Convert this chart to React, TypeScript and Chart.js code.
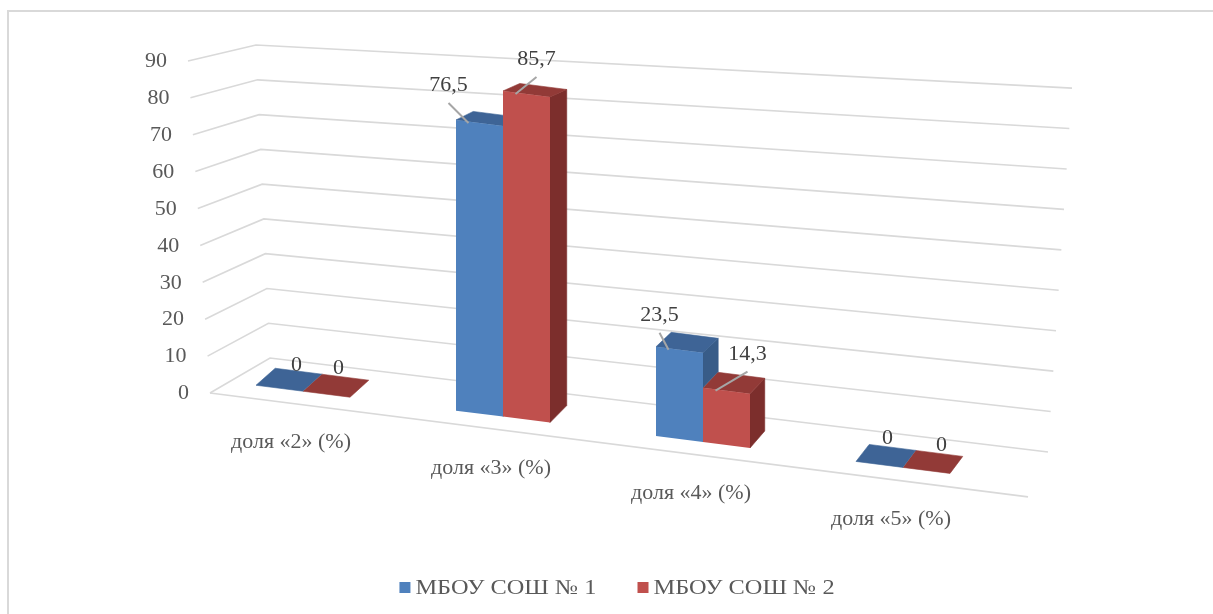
import React, { useEffect, useRef } from "react";
import { Chart, registerables } from "chart.js";

Chart.register(...registerables);

// ---------- data ----------
const CATEGORIES = ["доля «2» (%)", "доля «3» (%)", "доля «4» (%)", "доля «5» (%)"];
const SCHOOL_1 = [0, 76.5, 23.5, 0];
const SCHOOL_2 = [0, 85.7, 14.3, 0];
const SERIES_NAMES = ["МБОУ СОШ № 1", "МБОУ СОШ № 2"];
const Y_TICKS = [0, 10, 20, 30, 40, 50, 60, 70, 80, 90];
const Y_MAX = 90;

// ---------- styles ----------
const FRONT = ["#4F81BD", "#C0504D"];
const TOP = ["#3E6496", "#923A37"];
const SIDE = ["#385C88", "#7C2E2C"];
const GRID = "#D9D9D9";
const AXIS_TEXT = "#595959";
const LABEL_TEXT = "#404040";
const LEADER = "#A6A6A6";
const FONT = '"Liberation Serif", "Times New Roman", serif';
const STRETCH = 1.1;
// label nudges relative to the top-front centre of each bar
const LABEL_NUDGE = [
  [[17, -22], [-31, -37], [-20, -34], [8, -26]],
  [[12, -25], [10, -34], [21, -36], [15, -25]],
];
// oblique view parameters
const K = 0.127; // floor recession (vertical shift per px)
const SHEAR_X0 = 114; // from chartArea.left

const fmt = (v: number) => String(v).replace(".", ",");

function txt(ctx: CanvasRenderingContext2D, s: string, x: number, y: number, size: number, color: string, align: CanvasTextAlign, stretch = STRETCH) {
  ctx.save();
  ctx.font = `${size}px ${FONT}`;
  ctx.fillStyle = color;
  ctx.textBaseline = "middle";
  ctx.textAlign = align;
  ctx.translate(x, y);
  ctx.scale(stretch, 1);
  ctx.fillText(s, 0, 0);
  ctx.restore();
}

function tracePoly(ctx: CanvasRenderingContext2D, pts: number[][]) {
  ctx.moveTo(pts[0][0], pts[0][1]);
  for (let i = 1; i < pts.length; i++) ctx.lineTo(pts[i][0], pts[i][1]);
  ctx.closePath();
}

function poly(ctx: CanvasRenderingContext2D, pts: number[][], color: string) {
  ctx.beginPath();
  tracePoly(ctx, pts);
  ctx.fillStyle = color;
  ctx.strokeStyle = color;
  ctx.lineWidth = 0.6;
  ctx.fill();
  ctx.stroke();
}

// 3D box corner points for a bar element (screen space)
function boxGeom(el: any, v: number, x0: number) {
  const S = (x: number, y: number) => [x, y + K * (x - x0)];
  const xl = el.x - el.width / 2, xr = el.x + el.width / 2;
  const dx = 19 - 0.01 * (el.x - 300);
  const dyTop = -(17 - 10 * v / Y_MAX);
  const ftl = S(xl, el.y), ftr = S(xr, el.y);
  const btl = [ftl[0] + dx, ftl[1] + dyTop], btr = [ftr[0] + dx, ftr[1] + dyTop];
  const fbl = S(xl, el.base), fbr = S(xr, el.base);
  const bbr = [fbr[0] + dx, fbr[1] - 17];
  const top = [ftl, ftr, btr, btl];
  const side = v > 0 ? [ftr, btr, bbr, fbr] : null;
  const hull = v > 0 ? [fbl, ftl, btl, btr, bbr, fbr] : top;
  return { top, side, hull };
}

const pseudo3d = {
  id: "pseudo3d",
  beforeDraw(chart: any) {
    const ctx = chart.ctx;
    ctx.save();
    ctx.fillStyle = "#D9D9D9";
    ctx.fillRect(7, 10, chart.width, 2);
    ctx.fillRect(7, 10, 2, chart.height);
    ctx.restore();
  },
  beforeDatasetsDraw(chart: any) {
    const ctx = chart.ctx;
    const ca = chart.chartArea;
    const ys = chart.scales.y;
    const xs = chart.scales.x;
    const base = ys.getPixelForValue(0);
    const h = base - ca.top;
    const x0 = ca.left + SHEAR_X0;
    ctx.save();
    ctx.strokeStyle = GRID;
    ctx.lineWidth = 1.6;
    Y_TICKS.forEach((v) => {
      const p = ys.getPixelForValue(v);
      const d = p - base;
      const t = (base - p) / h;
      const fx = ca.left + 7 - 22 * t, fy = base + d * 0.971;
      const blx = ca.left + 67 - 14 * t, bly = base - 35 + d * 0.915;
      const brx = ca.left + 845 + 24 * t, bry = base + 59 + d * 1.064;
      ctx.beginPath();
      ctx.moveTo(fx, fy);
      ctx.lineTo(blx, bly);
      ctx.lineTo(brx, bry);
      ctx.stroke();
      txt(ctx, String(v), fx - 21, fy + 1, 20, AXIS_TEXT, "right");
    });
    // floor front edge
    const ex = ca.left + 825;
    ctx.beginPath();
    ctx.moveTo(ca.left + 7, base);
    ctx.lineTo(ex, base + K * (ex - x0) + 13.6);
    ctx.stroke();
    ctx.restore();
    // category labels
    CATEGORIES.forEach((c, j) => {
      const cx = xs.getPixelForValue(j);
      txt(ctx, c, cx - 12, base + K * (cx - x0) + 52, 20, AXIS_TEXT, "center");
    });
  },
  beforeDatasetDraw(chart: any, args: any) {
    const ctx = chart.ctx;
    const ca = chart.chartArea;
    const x0 = ca.left + SHEAR_X0;
    const i = args.index;
    const vals = chart.data.datasets[i].data as number[];
    const nextIdx = i + 1 < chart.data.datasets.length ? i + 1 : -1;
    const nextMeta = nextIdx >= 0 ? chart.getDatasetMeta(nextIdx) : null;
    const nextVals = nextIdx >= 0 ? (chart.data.datasets[nextIdx].data as number[]) : null;
    args.meta.data.forEach((el: any, j: number) => {
      const g = boxGeom(el, vals[j], x0);
      ctx.save();
      if (nextMeta && nextVals) {
        // the neighbouring bar on the right stands in front of this bar's hidden faces
        const ng = boxGeom(nextMeta.data[j], nextVals[j], x0);
        ctx.beginPath();
        ctx.rect(0, 0, chart.width, chart.height);
        tracePoly(ctx, ng.hull);
        ctx.clip("evenodd");
      }
      if (g.side) poly(ctx, g.side, SIDE[i]);
      poly(ctx, g.top, TOP[i]);
      ctx.restore();
    });
    ctx.save();
    ctx.transform(1, K, 0, 1, 0, -K * x0);
  },
  afterDatasetDraw(chart: any) {
    chart.ctx.restore();
  },
  afterDatasetsDraw(chart: any) {
    const ctx = chart.ctx;
    const ca = chart.chartArea;
    const x0 = ca.left + SHEAR_X0;
    chart.data.datasets.forEach((ds: any, i: number) => {
      const meta = chart.getDatasetMeta(i);
      meta.data.forEach((el: any, j: number) => {
        const v = ds.data[j];
        const ax = el.x, ay = el.y + K * (el.x - x0);
        const [nx, ny] = LABEL_NUDGE[i][j];
        const lx = ax + nx, ly = ay + ny;
        if (v > 0) {
          ctx.save();
          ctx.strokeStyle = LEADER;
          ctx.lineWidth = 2;
          ctx.beginPath();
          ctx.moveTo(lx, ly + 17);
          ctx.lineTo(ax - 11, ay);
          ctx.stroke();
          ctx.restore();
        }
        txt(ctx, fmt(v), lx, ly, 20, LABEL_TEXT, "center");
      });
    });
  },
  afterDraw(chart: any) {
    const ctx = chart.ctx;
    const ca = chart.chartArea;
    const size = 21;
    const stretch = 1.16;
    ctx.save();
    ctx.font = `${size}px ${FONT}`;
    const widths = SERIES_NAMES.map((n) => ctx.measureText(n).width * stretch);
    ctx.restore();
    const gap = 41;
    const total = widths.reduce((a, w) => a + 16 + w, 0) + gap * (widths.length - 1);
    let x = (ca.left + ca.right) / 2 + 14 - total / 2;
    const y = 588;
    SERIES_NAMES.forEach((n, i) => {
      ctx.fillStyle = FRONT[i];
      ctx.fillRect(x, y - 6, 11, 11);
      txt(ctx, n, x + 16, y, size, AXIS_TEXT, "left", stretch);
      x += 16 + widths[i] + gap;
    });
  },
};

export default function App() {
  const ref = useRef<HTMLCanvasElement>(null);
  useEffect(() => {
    const W = 1213, H = 614;
    const chart = new Chart(ref.current!, {
      type: "bar",
      data: {
        labels: CATEGORIES,
        datasets: [
          { label: SERIES_NAMES[0], data: SCHOOL_1, backgroundColor: FRONT[0], borderWidth: 0, clip: false as any },
          { label: SERIES_NAMES[1], data: SCHOOL_2, backgroundColor: FRONT[1], borderWidth: 0, clip: false as any },
        ],
      },
      options: {
        responsive: false,
        animation: false,
        devicePixelRatio: 1,
        layout: { padding: { left: 203, right: W - 1003, top: 51, bottom: H - 393 } },
        datasets: { bar: { categoryPercentage: 0.47, barPercentage: 1 } },
        plugins: { legend: { display: false }, tooltip: { enabled: false } },
        scales: {
          x: { display: false, offset: true },
          y: { display: false, min: 0, max: Y_MAX, ticks: { stepSize: 10 } },
        },
      },
      plugins: [pseudo3d as any],
    });
    return () => chart.destroy();
  }, []);
  return (
    <canvas
      ref={ref}
      width={1213}
      height={614}
      style={{ position: "absolute", left: 0, top: 0, width: 1213, height: 614 }}
    />
  );
}
